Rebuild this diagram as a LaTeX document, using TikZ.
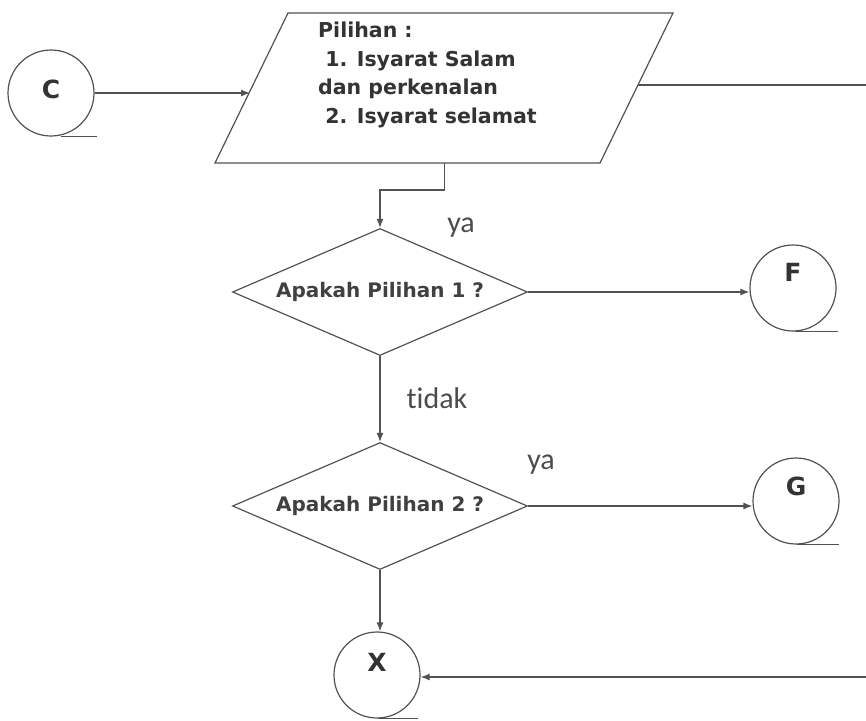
\documentclass[tikz,border=0pt]{standalone}
\usepackage{fontspec}
\setmainfont{DejaVu Sans}
\newfontfamily\labelfont[Ligatures=NoCommon]{Carlito}
\usetikzlibrary{shapes.geometric,arrows.meta,calc}
\begin{document}
\begin{tikzpicture}[x=1pt,y=-1pt,
  line/.style={draw=black!68, line width=1.2pt},
  arr/.style={line, -{Latex[length=9pt,width=7pt]}},
  conn/.style={circle, line, minimum size=86pt, inner sep=0pt, text height=0pt, text depth=0pt,
    font=\bfseries\fontsize{25}{25}\selectfont, text=black!80},
  decision/.style={diamond, line, shape aspect=2.3, minimum width=295pt, minimum height=127pt,
    inner sep=0pt, font=\bfseries\fontsize{20}{24}\selectfont, text=black!75},
  boxtext/.style={align=left, anchor=north west, inner sep=0pt,
    font=\bfseries\fontsize{20.5}{28.5}\selectfont, text=black!80},
  lbl/.style={font=\labelfont\fontsize{30}{30}\selectfont, text=black!70, inner sep=0pt}
]
\useasboundingbox (0,0) rectangle (866,720);

% input / output parallelogram
\coordinate (Pbl) at (215,163);
\coordinate (Pbr) at (600,163);
\coordinate (Ptr) at (673,13);
\coordinate (Ptl) at (288,13);
\draw[line] (Pbl) -- (Pbr) -- (Ptr) -- (Ptl) -- cycle;
\node[boxtext] (Ptext) at (318,22) {Pilihan :\\\ 1. Isyarat Salam\\dan perkenalan\\\ 2. Isyarat selamat};

% connectors (circles)
\node[conn] (C) at (51,93) {\raisebox{-5.6pt}{C}};
\node[conn] (F) at (793,288) {\raisebox{6.4pt}{F}};
\node[conn] (G) at (796,501) {\raisebox{5.4pt}{G}};
\node[conn] (X) at (377,675) {\raisebox{3.4pt}{X}};

% decisions
\node[decision] (D1) at (380,292) {Apakah Pilihan 1 ?};
\node[decision] (D2) at (380,506) {Apakah Pilihan 2 ?};

% labels
\node[lbl] (ya1) at (461,228) {ya};
\node[lbl] (tidak) at (437,398) {tidak};
\node[lbl] (ya2) at (541,465) {ya};

% helper coordinates
\coordinate (pin) at ($(Pbl)!0.48!(Ptl)$);
\coordinate (pout) at ($(Pbr)!0.52!(Ptr)$);
\coordinate (pb) at ($(Pbl)!0.597!(Pbr)$);
\coordinate (r1) at (866,85);
\coordinate (r2) at (866,677);

% connector lines
\draw[arr] (C.east) -- (C.east -| pin);
\draw[line] (pout) -- (pout -| r1);
\draw[arr] (pb) -- ++(0,27) -| (D1.north);
\draw[arr] (D1.east) -- (D1.east -| F.west);
\draw[arr] (D1.south) -- (D2.north);
\draw[arr] (D2.east) -- (D2.east -| G.west);
\draw[arr] (D2.south) -- (D2.south |- X.north);
\draw[arr] (r2) -- (r2 -| X.east);

% off-page underlines
\draw[line] ([xshift=10pt]C.south) -- ++(36,0);
\draw[line] ([xshift=2pt]F.south) -- ++(43,0);
\draw[line] ([xshift=1pt]G.south) -- ++(42,0);
\draw[line] ([xshift=1pt]X.south) -- ++(40,0);
\end{tikzpicture}
\end{document}
